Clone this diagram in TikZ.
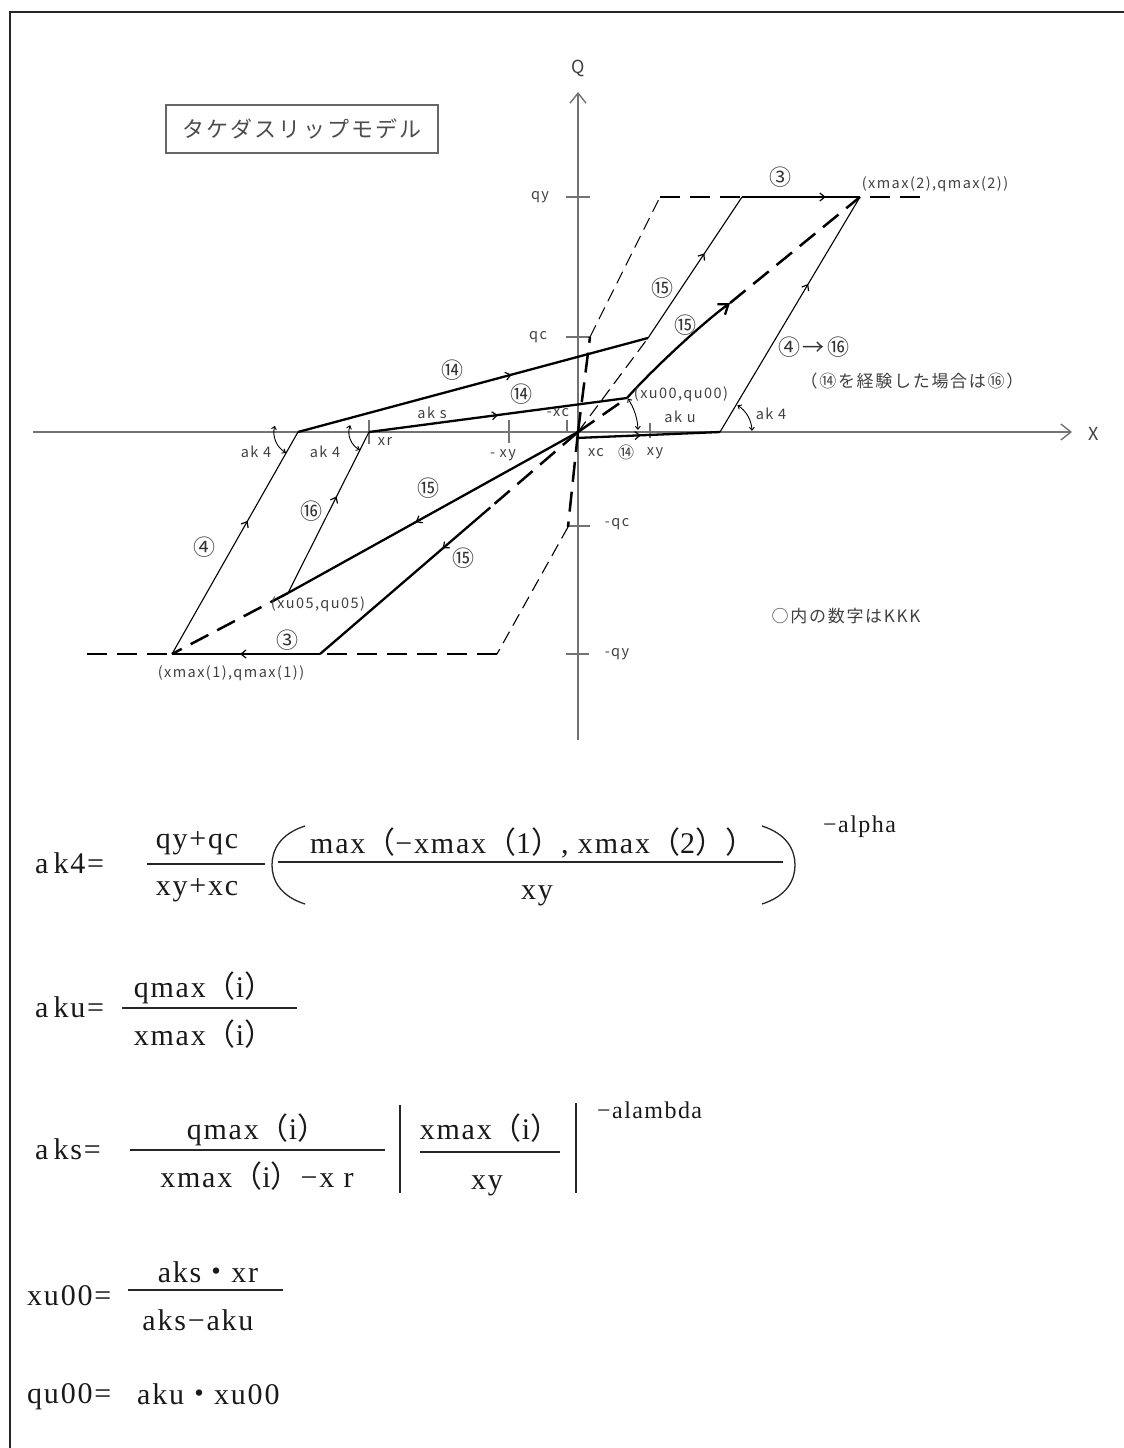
\documentclass[tikz,border=0pt]{standalone}
\usepackage{fontspec}
\setmainfont{Liberation Serif}
\newfontfamily\fmfont{Liberation Serif}[LetterSpace=6]
\newfontfamily\fwfont{Noto Sans CJK JP}
\newfontfamily\jpfont{Noto Sans CJK JP}[LetterSpace=10]
\newcommand{\fwl}{{\fwfont （}}
\newcommand{\fwr}{{\fwfont ）}}
\newcommand{\fwdot}{{\fwfont ・}}
\usetikzlibrary{arrows.meta,decorations.markings,calc}

\tikzset{
  frameline/.style={draw=black!85, line width=1.5pt},
  axis/.style={draw=black!55, line width=1.4pt, -{Straight Barb[length=10pt,width=16pt]}},
  tickline/.style={draw=black!55, line width=1.3pt},
  heavy/.style={line width=2.3pt},
  light/.style={line width=1.1pt},
  heavydash/.style={line width=2.5pt, dash pattern=on 20pt off 10pt},
  lightdash/.style={line width=1.1pt, dash pattern=on 13pt off 7pt},
  midarrow/.style={postaction={decorate}, decoration={markings,
    mark=at position #1 with {\arrow{Straight Barb[length=5pt,width=8pt,line width=1.2pt]}}}},
  angarrow/.style={line width=0.9pt,
    {Straight Barb[length=3pt,width=5pt]}-{Straight Barb[length=3pt,width=5pt]}},
  lbl/.style={font=\jpfont\fontsize{14.5}{16}\selectfont, text=black!75, inner sep=0pt},
  circnum/.style={font=\jpfont\fontsize{22}{24}\selectfont, text=black!80, inner sep=0pt},
  note/.style={font=\jpfont\fontsize{17}{19}\selectfont, text=black!75, inner sep=0pt},
  fm/.style={font=\fmfont\fontsize{30}{34}\selectfont, text=black!90, inner sep=0pt, anchor=base},
  fmhead/.style={fm, anchor=base west},
  fmexp/.style={font=\fmfont\fontsize{24}{28}\selectfont, text=black!90, inner sep=0pt, anchor=base west},
  fbar/.style={line width=1.5pt, draw=black!85},
  fparen/.style={line width=1.3pt, draw=black!85},
  fvbar/.style={line width=1.8pt, draw=black!85},
}

\begin{document}
\begin{tikzpicture}[x=1pt, y=-1pt]
    \useasboundingbox (0,0) rectangle (1124,1448);

    \coordinate (fbl) at (10,1448);
    \coordinate (ftl) at (10,12);
    \coordinate (ftr) at (1124,12);
    \draw[frameline] (fbl) -- (ftl) -- (ftr);

    \node[draw=black!60, line width=1.3pt, minimum width=272, minimum height=48,
          font=\jpfont\fontsize{22}{24}\selectfont, text=black!70] (title) at (302,129) {タケダスリップモデル};

    \coordinate (xs) at (33,432);
    \coordinate (xe) at (1072,432);
    \coordinate (qs) at (578,740);
    \coordinate (qe) at (578,92);
    \draw[axis] (xs) -- (xe);
    \draw[axis] (qs) -- (qe);
    \node[lbl, font=\jpfont\fontsize{18}{20}\selectfont] (xlab) at (1094,434) {X};
    \node[lbl, font=\jpfont\fontsize{18}{20}\selectfont] (qlab) at (578,68) {Q};

    \draw[tickline] (566,197) -- (590,197);
    \draw[tickline] (566,337) -- (590,337);
    \draw[tickline] (567,526) -- (590,526);
    \draw[tickline] (566,654) -- (589,654);
    \draw[tickline] (369,420) -- (369,444);
    \draw[tickline] (509,420) -- (509,443);
    \draw[tickline] (567,420) -- (567,432);
    \draw[tickline] (650,423) -- (650,438);

    \coordinate (O) at (578,432);
    \coordinate (qcP) at (590,337);
    \coordinate (qyP) at (660,197);
    \coordinate (qyE) at (930,197);
    \coordinate (nqcP) at (568,527);
    \coordinate (nqyP) at (497,654);
    \coordinate (nqyE) at (85,654);
    \coordinate (pk2) at (860,197);
    \coordinate (pk1) at (172,654);
    \coordinate (s3a) at (742,197);
    \coordinate (s15a) at (648,338);
    \coordinate (s14a) at (298,432);
    \coordinate (xrP) at (369,432);
    \coordinate (u00) at (627,398);
    \coordinate (mC) at (730,303);
    \coordinate (k4s) at (576,438);
    \coordinate (k4P) at (720,432);
    \coordinate (u05) at (288,593);
    \coordinate (s3b) at (320,654);
    \coordinate (s15b) at ($(s3b)!0.66!(O)$);

    \draw[heavydash] (O) -- (qcP);
    \draw[lightdash] (qcP) -- (qyP);
    \draw[heavydash] (qyP) -- (qyE);
    \draw[heavydash] (O) -- (nqcP);
    \draw[lightdash] (nqcP) -- (nqyP);
    \draw[heavydash] (nqyP) -- (nqyE);

    \draw[heavy, midarrow=0.71] (s3a) -- (pk2);
    \draw[light, midarrow=0.6] (s15a) -- (s3a);
    \draw[lightdash] (O) -- (s15a);
    \draw[heavy, midarrow=0.61] (s14a) -- (s15a);
    \draw[heavy, midarrow=0.5] (xrP) -- (u00);
    \draw[heavydash] (O) -- (u00);
    \draw[heavy, -{Straight Barb[length=9pt,width=13pt]}] (u00) .. controls (650,372) and (700,325) .. (mC);
    \draw[heavydash] (mC) -- (pk2);
    \draw[heavy, midarrow=0.45] (k4s) -- (k4P);
    \draw[light, midarrow=0.63] (k4P) -- (pk2);

    \draw[light, midarrow=0.6] (pk1) -- (s14a);
    \draw[light, midarrow=0.6] (u05) -- (xrP);
    \draw[heavy, midarrow=0.56] (O) -- (u05);
    \draw[heavydash] (u05) -- (pk1);
    \draw[heavydash] (O) -- (s15b);
    \draw[heavy, midarrow=0.28] (s15b) -- (s3b);
    \draw[heavy, midarrow=0.54] (s3b) -- (pk1);

    \draw[angarrow] ([shift={(-165:24)}]s14a) arc[start angle=-165, end angle=-240, radius=24];
    \draw[angarrow] ([shift={(-160:20)}]xrP) arc[start angle=-160, end angle=-243, radius=20];
    \draw[angarrow] ([shift={(-57:32)}]k4P) arc[start angle=-57, end angle=-2, radius=32];
    \draw[angarrow] ([shift={(-34:60)}]O) arc[start angle=-34, end angle=-2, radius=60];

    \node[lbl] (lqy) at (540,197) {qy};
    \node[lbl] (lqc) at (538,337) {qc};
    \node[lbl] (lnqc) at (617,524) {-qc};
    \node[lbl] (lnqy) at (617,654) {-qy};
    \node[lbl] (lxr) at (385,441) {xr};
    \node[lbl] (lnxy) at (503,455) {- xy};
    \node[lbl] (lnxc) at (558,413) {-xc};
    \node[lbl] (lxc) at (596,453) {xc};
    \node[lbl] (lxy) at (655,453) {xy};
    \node[lbl] (laks) at (432,413) {ak s};
    \node[lbl] (laku) at (680,417) {ak u};
    \node[lbl] (lak4r) at (771,414) {ak 4};
    \node[lbl] (lak4a) at (256,452) {ak 4};
    \node[lbl] (lak4b) at (325,452) {ak 4};
    \node[lbl] (lu00) at (681,394) {(xu00,qu00)};
    \node[lbl] (lu05) at (318,604) {(xu05,qu05)};
    \node[lbl] (lpk1) at (231,673) {(xmax(1),qmax(1))};
    \node[lbl] (lpk2) at (935,184) {(xmax(2),qmax(2))};

    \node[circnum] (c3a) at (780,177) {③};
    \node[circnum] (c15a) at (662,288) {⑮};
    \node[circnum] (c15b) at (685,325) {⑮};
    \node[circnum] (c4to16) at (814,347) {④→⑯};
    \node[circnum] (c14a) at (452,370) {⑭};
    \node[circnum] (c14b) at (521,394) {⑭};
    \node[circnum, font=\jpfont\fontsize{16}{18}\selectfont] (c14c) at (626,452) {⑭};
    \node[circnum] (c15c) at (428,488) {⑮};
    \node[circnum] (c16) at (311,511) {⑯};
    \node[circnum] (c4) at (204,547) {④};
    \node[circnum] (c15d) at (463,558) {⑮};
    \node[circnum] (c3b) at (287,640) {③};
    \node[note] (case) at (912,381) {（⑭を経験した場合は⑯）};
    \node[note] (kkk) at (846,616) {○内の数字はKKK};

    \node[fmhead] (hak4) at (35,873) {a\,k4=};
    \node[fm] (nak4) at (197,848) {qy+qc};
    \node[fm] (dak4) at (197,895) {xy+xc};
    \draw[fbar] (147,864) -- (265,864);
    \draw[fparen] (305,826) .. controls (280,834) and (272,850) .. (272,865)
                            .. controls (272,880) and (280,896) .. (305,904);
    \draw[fbar] (278,862) -- (783,862);
    \node[fm, anchor=base west] (nmax) at (310,853) {max\fwl−xmax\fwl1\fwr, xmax\fwl2\fwr\fwr};
    \node[fm] (dmax) at (537,899) {xy};
    \draw[fparen] (762,826) .. controls (787,834) and (795,850) .. (795,865)
                            .. controls (795,880) and (787,896) .. (762,904);
    \node[fmexp] (ealpha) at (823,832) {−alpha};

    \node[fmhead] (haku) at (35,1017) {a\,ku=};
    \node[fm] (naku) at (204,997) {qmax\fwl i\fwr};
    \node[fm] (daku) at (204,1045) {xmax\fwl i\fwr};
    \draw[fbar] (122,1008) -- (297,1008);

    \node[fmhead] (haks) at (35,1159) {a\,ks=};
    \node[fm] (naks) at (257,1139) {qmax\fwl i\fwr};
    \node[fm] (daks) at (257,1187) {xmax\fwl i\fwr −x r};
    \draw[fbar] (130,1150) -- (385,1150);
    \draw[fvbar] (400,1105) -- (400,1193);
    \node[fm] (nxr) at (490,1139) {xmax\fwl i\fwr};
    \node[fm] (dxr) at (487,1189) {xy};
    \draw[fbar] (420,1152) -- (560,1152);
    \draw[fvbar] (576,1103) -- (576,1193);
    \node[fmexp] (elambda) at (597,1118) {−alambda};

    \node[fmhead] (hxu) at (27,1305) {xu00=};
    \node[fm] (nxu) at (208,1282) {aks\fwdot xr};
    \node[fm] (dxu) at (198,1330) {aks−aku};
    \draw[fbar] (128,1290) -- (283,1290);

    \node[fmhead] (hqu) at (27,1403) {qu00=};
    \node[fm, anchor=base west] (rqu) at (137,1404) {aku\fwdot xu00};
\end{tikzpicture}
\end{document}
